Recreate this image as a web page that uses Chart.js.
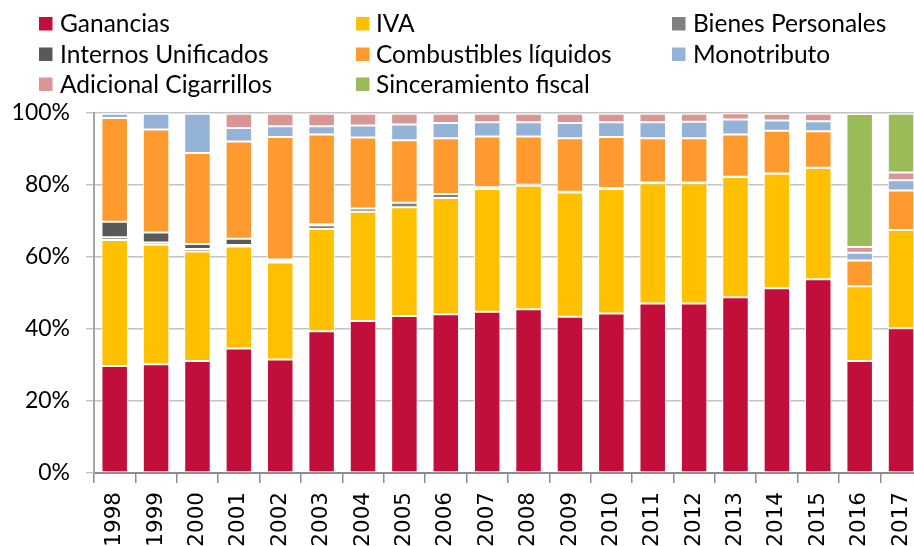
<!DOCTYPE html>
<html>
<head>
<meta charset="utf-8">
<script src="https://cdn.jsdelivr.net/npm/chart.js@4/dist/chart.umd.min.js"></script>
<style>
  html, body { margin: 0; padding: 0; background: #fff; overflow: hidden; width: 914px; height: 546px; }
  #wrap { position: absolute; left: 0; top: 0; width: 936px; height: 546px; }
</style>
</head>
<body>
<div id="wrap"><canvas id="c" width="936" height="546"></canvas></div>
<script>
const years = ["1998","1999","2000","2001","2002","2003","2004","2005","2006","2007","2008","2009","2010","2011","2012","2013","2014","2015","2016","2017"];
const yTickLabels = ["0%","20%","40%","60%","80%","100%"];

const ganancias      = [29.7, 30.2, 31.1, 34.6, 31.5, 39.4, 42.2, 43.6, 44.1, 44.8, 45.5, 43.4, 44.3, 47.1, 47.1, 48.8, 51.3, 53.8, 31.1, 40.2];
const iva            = [35.0, 33.2, 30.4, 28.3, 27.0, 28.4, 30.4, 30.2, 32.3, 34.1, 34.3, 34.5, 34.6, 33.4, 33.4, 33.4, 31.8, 30.9, 20.8, 27.3];
const bienesPers     = [0.8, 0.6, 0.7, 0.4, 0.5, 1.0, 0.9, 1.3, 1.1, 0.5, 0.3, 0.2, 0.3, 0.2, 0.2, 0.1, 0.1, 0.1, 0.0, 0.0];
const internosUnif   = [4.3, 2.8, 1.4, 1.8, 0.3, 0.3, 0.0, 0.0, 0.0, 0.0, 0.0, 0.0, 0.0, 0.0, 0.0, 0.0, 0.0, 0.0, 0.0, 0.0];
const combustibles   = [28.8, 28.6, 25.3, 27.0, 34.0, 24.9, 19.7, 17.3, 15.5, 14.1, 13.4, 14.9, 14.1, 12.3, 12.3, 11.7, 11.9, 10.1, 7.1, 11.0];
const monotributo    = [1.2, 4.4, 10.9, 3.7, 3.0, 2.3, 3.3, 4.4, 4.2, 3.9, 3.9, 4.2, 4.1, 4.4, 4.6, 4.2, 2.8, 2.8, 2.2, 2.8];
const cigarrillos    = [0.2, 0.2, 0.2, 4.0, 3.5, 3.5, 3.3, 3.0, 2.6, 2.4, 2.4, 2.6, 2.4, 2.4, 2.2, 1.7, 1.9, 2.1, 1.6, 2.2];
const sinceramiento  = [0, 0, 0, 0, 0, 0, 0, 0, 0, 0, 0, 0, 0, 0, 0, 0, 0, 0, 36.9, 16.3];

const seriesNames = ["Ganancias","IVA","Bienes Personales","Internos Unificados","Combustibles líquidos","Monotributo","Adicional Cigarrillos","Sinceramiento fiscal"];
const seriesData = [ganancias, iva, bienesPers, internosUnif, combustibles, monotributo, cigarrillos, sinceramiento];
const seriesColors = ["#C20E3A","#FFC000","#808080","#595959","#FF9A2F","#95B3D7","#DA9694","#9BBB59"];

const datasets = seriesNames.map((n, i) => ({
  label: n,
  data: seriesData[i],
  backgroundColor: seriesColors[i],
  borderColor: "rgba(255,255,255,0.95)",
  borderWidth: 1,
  borderSkipped: false,
  categoryPercentage: 1.0,
  barPercentage: 0.64
}));

// Grid legend (3 columns) drawn from the datasets
const gridLegend = {
  id: "gridLegend",
  afterDraw(chart) {
    const ctx = chart.ctx;
    const colBox = [39, 356, 672];
    const colText = [60, 376, 693];
    const rowY = [23.5, 54, 84];
    ctx.save();
    ctx.font = "24.5px Lato";
    ctx.textBaseline = "middle";
    chart.data.datasets.forEach((ds, i) => {
      const col = i % 3, row = Math.floor(i / 3);
      const y = rowY[row];
      ctx.fillStyle = ds.backgroundColor;
      ctx.fillRect(colBox[col], y - 6.5, 13.5, 13.5);
      ctx.fillStyle = "#000";
      ctx.fillText(ds.label, colText[col], y + 1);
    });
    ctx.restore();
  }
};

new Chart(document.getElementById("c"), {
  type: "bar",
  data: { labels: years, datasets },
  plugins: [gridLegend],
  options: {
    responsive: false,
    animation: false,
    devicePixelRatio: 1,
    layout: { padding: { top: 113, right: 6, left: 0, bottom: 0 } },
    plugins: { legend: { display: false }, tooltip: { enabled: false } },
    scales: {
      x: {
        stacked: true,
        offset: true,
        afterFit(scale) { scale.height = 73; },
        grid: { display: true, drawOnChartArea: false, drawTicks: true, tickLength: 10, color: "#8C8C8C", lineWidth: 1.5, offset: true },
        border: { display: true, color: "#8C8C8C", width: 2 },
        ticks: {
          autoSkip: false, minRotation: 90, maxRotation: 90, padding: 9,
          color: "#000", font: { family: "DejaVu Sans", size: 21.5 }
        }
      },
      y: {
        stacked: true,
        min: 0, max: 100,
        afterFit(scale) { scale.width = 94; },
        grid: { color: "#C4C4C4", lineWidth: 1.5, tickLength: 8 },
        border: { display: true, color: "#A6A6A6", width: 2 },
        ticks: {
          stepSize: 20, padding: 16, color: "#000",
          font: { family: "Lato", size: 23 },
          callback: (v) => yTickLabels[Math.round(v / 20)]
        }
      }
    }
  }
});
</script>
</body>
</html>
